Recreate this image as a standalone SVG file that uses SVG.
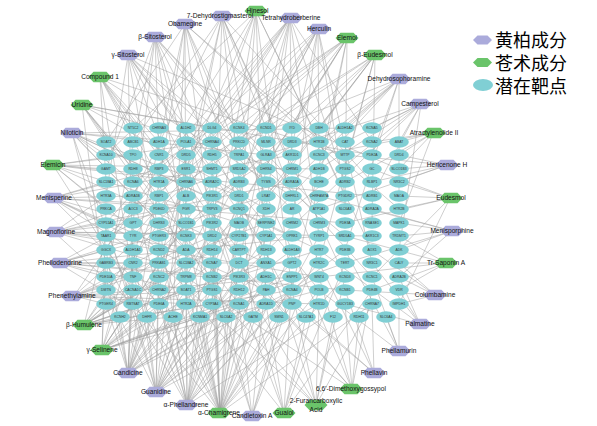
<svg xmlns="http://www.w3.org/2000/svg" xmlns:xlink="http://www.w3.org/1999/xlink" width="597" height="426" viewBox="0 0 597 426">
<style>
.e{fill:none;stroke:#9e9e9e;stroke-width:.5}
#targets ellipse{fill:#80cfd4}
#targets text{font-family:"Liberation Sans",Arial,sans-serif;font-size:3.4px;fill:#333;text-anchor:middle}
.p{fill:#ababdb}
.g{fill:#6ac46a}
.nl{font-family:"Liberation Sans",Arial,sans-serif;font-size:6.6px;fill:#111;text-anchor:middle}
.lg{font-family:"Noto Sans CJK SC",sans-serif;font-size:18px;fill:#000}
</style>
<defs>
<polygon id="hex" points="-11.5,0 -6.5,-5.3 6.5,-5.3 11.5,0 6.5,5.3 -6.5,5.3"/>
<polygon id="hexL" points="-9.5,0 -5,-4.6 5,-4.6 9.5,0 5,4.6 -5,4.6"/>
</defs>
<rect width="597" height="426" fill="#fff"/>
<g id="connectors">
<path class="e" d="M256 11L186 169M256 11L239 236M256 11L292 290M256 11L133 209M256 11L345 196M256 11L212 263M256 11L106 155M256 11L266 304M256 11L372 250M256 11L159 277"/>
<path class="e" d="M222 16L133 142M222 16L186 196M222 16L266 223M222 16L319 263M222 16L106 250M222 16L212 304M222 16L372 182M222 16L159 290M222 16L292 169M222 16L253 317M222 16L345 277"/>
<path class="e" d="M185 24L106 142M185 24L159 182M185 24L212 236M185 24L266 277M185 24L345 169M185 24L133 263M185 24L399 209M185 24L186 304M185 24L292 250M185 24L239 155M185 24L173 317"/>
<path class="e" d="M155 37L106 169M155 37L133 223M155 37L186 250M155 37L239 290M155 37L319 209M155 37L159 155M155 37L372 277M155 37L266 182M155 37L226 317M155 37L292 304M155 37L106 277"/>
<path class="e" d="M128 55L106 196M128 55L159 236M128 55L212 169M128 55L266 250M128 55L319 290M128 55L133 290M128 55L345 236M128 55L186 209M128 55L399 169M128 55L239 263M128 55L292 209"/>
<path class="e" d="M100 77L133 128M100 77L159 142M100 77L106 182M100 77L186 223M100 77L239 250M100 77L133 277M100 77L292 196M100 77L212 290M100 77L345 155M100 77L279 317"/>
<path class="e" d="M82 105L106 142M82 105L133 169M82 105L159 196M82 105L212 128M82 105L186 250M82 105L266 209M82 105L106 290M82 105L319 182M82 105L239 304M82 105L372 155"/>
<path class="e" d="M72 133L106 155M72 133L133 182M72 133L186 142M72 133L159 223M72 133L239 196M72 133L106 263M72 133L212 277M72 133L292 236M72 133L345 128M72 133L133 304M72 133L266 155M72 133L319 250"/>
<path class="e" d="M53 165L106 169M53 165L106 209M53 165L133 155M53 165L159 250M53 165L186 182M53 165L239 223M53 165L212 142M53 165L266 263M53 165L133 290M53 165L319 169M53 165L372 196"/>
<path class="e" d="M52 198L106 182M52 198L106 223M52 198L133 196M52 198L159 169M52 198L186 236M52 198L239 209M52 198L212 277M52 198L292 155M52 198L133 250M52 198L345 223M52 198L266 290M52 198L159 304"/>
<path class="e" d="M54 232L106 236M54 232L106 196M54 232L133 223M54 232L159 263M54 232L186 209M54 232L212 250M54 232L266 236M54 232L239 169M54 232L319 277M54 232L133 304M54 232L292 182M54 232L372 236"/>
<path class="e" d="M58 263L106 250M58 263L106 277M58 263L133 263M58 263L159 209M58 263L186 290M58 263L212 223M58 263L239 277M58 263L266 196M58 263L319 236M58 263L147 317M58 263L292 263M58 263L345 290"/>
<path class="e" d="M74 296L106 290M74 296L106 304M74 296L133 277M74 296L159 250M74 296L186 304M74 296L212 236M74 296L239 290M74 296L266 223M74 296L292 277M74 296L319 304M74 296L186 196M74 296L133 209"/>
<path class="e" d="M84 325L106 304M84 325L133 290M84 325L159 277M84 325L186 263M84 325L212 250M84 325L239 236M84 325L266 263M84 325L159 223M84 325L133 250M84 325L186 290M84 325L292 290M84 325L212 304M84 325L106 236M84 325L120 317M84 325L173 317M84 325L319 250M84 325L239 182"/>
<path class="e" d="M102 350L106 263M102 350L133 304M102 350L159 290M102 350L186 277M102 350L212 263M102 350L239 304M102 350L266 250M102 350L159 196M102 350L133 236M102 350L186 223M102 350L292 277M102 350L319 290M102 350L147 317M102 350L200 317M102 350L345 263M102 350L106 209M102 350L212 182"/>
<path class="e" d="M128 373L106 277M128 373L106 304M128 373L133 263M128 373L133 290M128 373L159 304M128 373L159 250M128 373L186 290M128 373L186 236M128 373L212 277M128 373L212 209M128 373L239 263M128 373L239 304M128 373L266 290M128 373L133 223M128 373L106 250M128 373L120 317M128 373L147 317M128 373L173 317M128 373L292 250M128 373L159 182M128 373L319 277M128 373L186 169"/>
<path class="e" d="M156 392L106 290M156 392L133 304M156 392L159 277M156 392L186 304M156 392L212 290M156 392L239 277M156 392L266 304M156 392L159 236M156 392L186 263M156 392L133 250M156 392L212 223M156 392L106 223M156 392L147 317M156 392L200 317M156 392L226 317M156 392L292 263M156 392L239 209M156 392L319 304M156 392L266 236M156 392L186 155M156 392L345 250"/>
<path class="e" d="M187 405L159 304M187 405L186 290M187 405L212 304M187 405L239 290M187 405L266 277M187 405L133 277M187 405L186 250M187 405L212 263M187 405L159 223M187 405L106 263M187 405L239 236M187 405L292 290M187 405L173 317M187 405L200 317M187 405L253 317M187 405L266 209M187 405L319 263M187 405L133 196M187 405L212 169M187 405L345 304"/>
<path class="e" d="M220 413L186 304M220 413L212 290M220 413L239 304M220 413L266 290M220 413L292 304M220 413L159 290M220 413L186 263M220 413L212 250M220 413L239 263M220 413L266 236M220 413L159 250M220 413L133 304M220 413L319 290M220 413L212 209M220 413L239 196M220 413L186 223M220 413L200 317M220 413L226 317M220 413L253 317M220 413L279 317M220 413L292 250M220 413L133 263M220 413L345 277M220 413L266 169M220 413L159 182M220 413L319 236M220 413L372 304M220 413L212 155"/>
<path class="e" d="M252 416L239 304M252 416L266 277M252 416L212 263M252 416L292 290M252 416L279 317M252 416L319 250M252 416L186 209"/>
<path class="e" d="M284 413L266 304M284 413L292 277M284 413L239 250M284 413L319 290M284 413L345 263M284 413L212 223M284 413L306 317M284 413L186 290M284 413L372 290"/>
<path class="e" d="M316 405L319 304M316 405L292 290M316 405L345 277M316 405L266 250M316 405L372 304M316 405L239 277M316 405L333 317M316 405L212 290M316 405L159 263"/>
<path class="e" d="M352 389L345 304M352 389L319 277M352 389L372 290M352 389L292 250M352 389L266 290M352 389L359 317M352 389L239 263M352 389L186 277"/>
<path class="e" d="M374 373L372 304M374 373L345 290M374 373L319 263M374 373L266 277M374 373L292 304"/>
<path class="e" d="M399 351L399 304M399 351L372 277M399 351L345 250M399 351L319 290M399 351L386 317"/>
<path class="e" d="M420 324L399 290M420 324L372 263M420 324L345 304M420 324L399 277M420 324L319 250"/>
<path class="e" d="M435 295L399 277M435 295L399 304M435 295L372 250M435 295L345 290M435 295L399 263"/>
<path class="e" d="M446 263L399 263M446 263L399 236M446 263L372 290M446 263L399 290M446 263L345 236M446 263L319 277"/>
<path class="e" d="M452 231L399 223M452 231L399 236M452 231L399 250M452 231L372 209M452 231L345 263M452 231L399 277M452 231L319 196"/>
<path class="e" d="M450 198L399 196M450 198L399 209M450 198L399 182M450 198L372 169M450 198L345 223M450 198L399 304M450 198L372 277"/>
<path class="e" d="M447 165L399 169M447 165L399 155M447 165L399 182M447 165L372 182M447 165L345 155M447 165L319 209"/>
<path class="e" d="M433 133L399 142M433 133L399 155M433 133L399 169M433 133L372 142M433 133L345 182M433 133L319 155M433 133L399 223"/>
<path class="e" d="M421 104L372 128M421 104L399 142M421 104L345 142M421 104L319 169M421 104L372 196M421 104L399 250M421 104L292 209M421 104L266 155M421 104L239 277"/>
<path class="e" d="M399 79L345 128M399 79L319 142M399 79L372 155M399 79L292 182M399 79L266 223M399 79L239 142M399 79L345 250M399 79L212 196M399 79L186 263M399 79L399 196"/>
<path class="e" d="M375 55L319 128M375 55L292 142M375 55L345 169M375 55L266 196M375 55L239 236M375 55L212 155M375 55L372 223M375 55L186 182M375 55L159 250M375 55L319 263"/>
<path class="e" d="M347 38L292 128M347 38L266 142M347 38L319 182M347 38L239 209M347 38L212 250M347 38L186 155M347 38L159 209M347 38L133 182M347 38L345 209M347 38L106 236M347 38L292 290"/>
<path class="e" d="M318 29L266 128M318 29L239 155M318 29L319 155M318 29L292 223M318 29L212 182M318 29L186 277M318 29L345 196M318 29L159 169M318 29L133 236M318 29L372 263M318 29L266 263"/>
<path class="e" d="M290 18L239 128M290 18L212 142M290 18L292 155M290 18L186 169M290 18L266 209M290 18L159 196M290 18L319 236M290 18L133 209M290 18L345 182M290 18L106 223M290 18L239 263M290 18L372 142M290 18L212 290"/>
</g>
<g id="targets">
<g id="t-NT5C2" transform="translate(133 128)"><ellipse rx="9.8" ry="5.8"/><text y="1.2">NT5C2</text></g>
<g id="t-CHRNA3" transform="translate(159 128)"><ellipse rx="9.8" ry="5.8"/><text y="1.2">CHRNA3</text></g>
<g id="t-ALDH2" transform="translate(186 128)"><ellipse rx="9.8" ry="5.8"/><text y="1.2">ALDH2</text></g>
<g id="t-DLG4" transform="translate(212 128)"><ellipse rx="9.8" ry="5.8"/><text y="1.2">DLG4</text></g>
<g id="t-KCNK4" transform="translate(239 128)"><ellipse rx="9.8" ry="5.8"/><text y="1.2">KCNK4</text></g>
<g id="t-KCND1" transform="translate(266 128)"><ellipse rx="9.8" ry="5.8"/><text y="1.2">KCND1</text></g>
<g id="t-IYD" transform="translate(292 128)"><ellipse rx="9.8" ry="5.8"/><text y="1.2">IYD</text></g>
<g id="t-DBH" transform="translate(319 128)"><ellipse rx="9.8" ry="5.8"/><text y="1.2">DBH</text></g>
<g id="t-ALDH1A2" transform="translate(345 128)"><ellipse rx="9.8" ry="5.8"/><text y="1.2">ALDH1A2</text></g>
<g id="t-KCNA5" transform="translate(372 128)"><ellipse rx="9.8" ry="5.8"/><text y="1.2">KCNA5</text></g>

<g id="t-SOAT2" transform="translate(106 142)"><ellipse rx="9.8" ry="5.8"/><text y="1.2">SOAT2</text></g>
<g id="t-ABCB1" transform="translate(133 142)"><ellipse rx="9.8" ry="5.8"/><text y="1.2">ABCB1</text></g>
<g id="t-ADH1A" transform="translate(159 142)"><ellipse rx="9.8" ry="5.8"/><text y="1.2">ADH1A</text></g>
<g id="t-POLA1" transform="translate(186 142)"><ellipse rx="9.8" ry="5.8"/><text y="1.2">POLA1</text></g>
<g id="t-CHRNA4" transform="translate(212 142)"><ellipse rx="9.8" ry="5.8"/><text y="1.2">CHRNA4</text></g>
<g id="t-PRKCD" transform="translate(239 142)"><ellipse rx="9.8" ry="5.8"/><text y="1.2">PRKCD</text></g>
<g id="t-MLNR" transform="translate(266 142)"><ellipse rx="9.8" ry="5.8"/><text y="1.2">MLNR</text></g>
<g id="t-DRD3" transform="translate(292 142)"><ellipse rx="9.8" ry="5.8"/><text y="1.2">DRD3</text></g>
<g id="t-HTR1B" transform="translate(319 142)"><ellipse rx="9.8" ry="5.8"/><text y="1.2">HTR1B</text></g>
<g id="t-CAT" transform="translate(345 142)"><ellipse rx="9.8" ry="5.8"/><text y="1.2">CAT</text></g>
<g id="t-KCNA2" transform="translate(372 142)"><ellipse rx="9.8" ry="5.8"/><text y="1.2">KCNA2</text></g>
<g id="t-ABAT" transform="translate(399 142)"><ellipse rx="9.8" ry="5.8"/><text y="1.2">ABAT</text></g>

<g id="t-KCNA10" transform="translate(106 155)"><ellipse rx="9.8" ry="5.8"/><text y="1.2">KCNA10</text></g>
<g id="t-TPO" transform="translate(133 155)"><ellipse rx="9.8" ry="5.8"/><text y="1.2">TPO</text></g>
<g id="t-CNR1" transform="translate(159 155)"><ellipse rx="9.8" ry="5.8"/><text y="1.2">CNR1</text></g>
<g id="t-DRD5" transform="translate(186 155)"><ellipse rx="9.8" ry="5.8"/><text y="1.2">DRD5</text></g>
<g id="t-RDH5" transform="translate(212 155)"><ellipse rx="9.8" ry="5.8"/><text y="1.2">RDH5</text></g>
<g id="t-TRPA1" transform="translate(239 155)"><ellipse rx="9.8" ry="5.8"/><text y="1.2">TRPA1</text></g>
<g id="t-GLRA3" transform="translate(266 155)"><ellipse rx="9.8" ry="5.8"/><text y="1.2">GLRA3</text></g>
<g id="t-AKR1D1" transform="translate(292 155)"><ellipse rx="9.8" ry="5.8"/><text y="1.2">AKR1D1</text></g>
<g id="t-KCNC3" transform="translate(319 155)"><ellipse rx="9.8" ry="5.8"/><text y="1.2">KCNC3</text></g>
<g id="t-MTTP" transform="translate(345 155)"><ellipse rx="9.8" ry="5.8"/><text y="1.2">MTTP</text></g>
<g id="t-PDE2A" transform="translate(372 155)"><ellipse rx="9.8" ry="5.8"/><text y="1.2">PDE2A</text></g>
<g id="t-DRD4" transform="translate(399 155)"><ellipse rx="9.8" ry="5.8"/><text y="1.2">DRD4</text></g>

<g id="t-GAMT" transform="translate(106 169)"><ellipse rx="9.8" ry="5.8"/><text y="1.2">GAMT</text></g>
<g id="t-RDH8" transform="translate(133 169)"><ellipse rx="9.8" ry="5.8"/><text y="1.2">RDH8</text></g>
<g id="t-RBP3" transform="translate(159 169)"><ellipse rx="9.8" ry="5.8"/><text y="1.2">RBP3</text></g>
<g id="t-ESR1" transform="translate(186 169)"><ellipse rx="9.8" ry="5.8"/><text y="1.2">ESR1</text></g>
<g id="t-SHMT1" transform="translate(212 169)"><ellipse rx="9.8" ry="5.8"/><text y="1.2">SHMT1</text></g>
<g id="t-SRD5A2" transform="translate(239 169)"><ellipse rx="9.8" ry="5.8"/><text y="1.2">SRD5A2</text></g>
<g id="t-DHRS4" transform="translate(266 169)"><ellipse rx="9.8" ry="5.8"/><text y="1.2">DHRS4</text></g>
<g id="t-CHRM1" transform="translate(292 169)"><ellipse rx="9.8" ry="5.8"/><text y="1.2">CHRM1</text></g>
<g id="t-ADH1B" transform="translate(319 169)"><ellipse rx="9.8" ry="5.8"/><text y="1.2">ADH1B</text></g>
<g id="t-PTGS2" transform="translate(345 169)"><ellipse rx="9.8" ry="5.8"/><text y="1.2">PTGS2</text></g>
<g id="t-GC" transform="translate(372 169)"><ellipse rx="9.8" ry="5.8"/><text y="1.2">GC</text></g>
<g id="t-SLCO1B3" transform="translate(399 169)"><ellipse rx="9.8" ry="5.8"/><text y="1.2">SLCO1B3</text></g>

<g id="t-SLC18A1" transform="translate(106 182)"><ellipse rx="9.8" ry="5.8"/><text y="1.2">SLC18A1</text></g>
<g id="t-KCNA6" transform="translate(133 182)"><ellipse rx="9.8" ry="5.8"/><text y="1.2">KCNA6</text></g>
<g id="t-HTR1A" transform="translate(159 182)"><ellipse rx="9.8" ry="5.8"/><text y="1.2">HTR1A</text></g>
<g id="t-CHRNA6" transform="translate(186 182)"><ellipse rx="9.8" ry="5.8"/><text y="1.2">CHRNA6</text></g>
<g id="t-ADRA2C" transform="translate(212 182)"><ellipse rx="9.8" ry="5.8"/><text y="1.2">ADRA2C</text></g>
<g id="t-ADRB3" transform="translate(239 182)"><ellipse rx="9.8" ry="5.8"/><text y="1.2">ADRB3</text></g>
<g id="t-TYMS" transform="translate(266 182)"><ellipse rx="9.8" ry="5.8"/><text y="1.2">TYMS</text></g>
<g id="t-ADRA1A" transform="translate(292 182)"><ellipse rx="9.8" ry="5.8"/><text y="1.2">ADRA1A</text></g>
<g id="t-BCHE" transform="translate(319 182)"><ellipse rx="9.8" ry="5.8"/><text y="1.2">BCHE</text></g>
<g id="t-ADRB2" transform="translate(345 182)"><ellipse rx="9.8" ry="5.8"/><text y="1.2">ADRB2</text></g>
<g id="t-RLBP1" transform="translate(372 182)"><ellipse rx="9.8" ry="5.8"/><text y="1.2">RLBP1</text></g>
<g id="t-NR3C2" transform="translate(399 182)"><ellipse rx="9.8" ry="5.8"/><text y="1.2">NR3C2</text></g>

<g id="t-HTR3A" transform="translate(106 196)"><ellipse rx="9.8" ry="5.8"/><text y="1.2">HTR3A</text></g>
<g id="t-ADRA1B" transform="translate(133 196)"><ellipse rx="9.8" ry="5.8"/><text y="1.2">ADRA1B</text></g>
<g id="t-RBP1" transform="translate(159 196)"><ellipse rx="9.8" ry="5.8"/><text y="1.2">RBP1</text></g>
<g id="t-ALB" transform="translate(186 196)"><ellipse rx="9.8" ry="5.8"/><text y="1.2">ALB</text></g>
<g id="t-PIK3R1" transform="translate(212 196)"><ellipse rx="9.8" ry="5.8"/><text y="1.2">PIK3R1</text></g>
<g id="t-DRD1" transform="translate(239 196)"><ellipse rx="9.8" ry="5.8"/><text y="1.2">DRD1</text></g>
<g id="t-LRAT" transform="translate(266 196)"><ellipse rx="9.8" ry="5.8"/><text y="1.2">LRAT</text></g>
<g id="t-DHFRL1" transform="translate(292 196)"><ellipse rx="9.8" ry="5.8"/><text y="1.2">DHFRL1</text></g>
<g id="t-CHRFAM7A" transform="translate(319 196)"><ellipse rx="9.8" ry="5.8"/><text y="1.2">CHRFAM7A</text></g>
<g id="t-PTGDR2" transform="translate(345 196)"><ellipse rx="9.8" ry="5.8"/><text y="1.2">PTGDR2</text></g>
<g id="t-ADRB1" transform="translate(372 196)"><ellipse rx="9.8" ry="5.8"/><text y="1.2">ADRB1</text></g>
<g id="t-MAOA" transform="translate(399 196)"><ellipse rx="9.8" ry="5.8"/><text y="1.2">MAOA</text></g>

<g id="t-PRKCA" transform="translate(106 209)"><ellipse rx="9.8" ry="5.8"/><text y="1.2">PRKCA</text></g>
<g id="t-AOC3" transform="translate(133 209)"><ellipse rx="9.8" ry="5.8"/><text y="1.2">AOC3</text></g>
<g id="t-PDE6D" transform="translate(159 209)"><ellipse rx="9.8" ry="5.8"/><text y="1.2">PDE6D</text></g>
<g id="t-PGR" transform="translate(186 209)"><ellipse rx="9.8" ry="5.8"/><text y="1.2">PGR</text></g>
<g id="t-TRPV3" transform="translate(212 209)"><ellipse rx="9.8" ry="5.8"/><text y="1.2">TRPV3</text></g>
<g id="t-KCNQ1" transform="translate(239 209)"><ellipse rx="9.8" ry="5.8"/><text y="1.2">KCNQ1</text></g>
<g id="t-XDH" transform="translate(266 209)"><ellipse rx="9.8" ry="5.8"/><text y="1.2">XDH</text></g>
<g id="t-AR" transform="translate(292 209)"><ellipse rx="9.8" ry="5.8"/><text y="1.2">AR</text></g>
<g id="t-ATP1A1" transform="translate(319 209)"><ellipse rx="9.8" ry="5.8"/><text y="1.2">ATP1A1</text></g>
<g id="t-SLC6A3" transform="translate(345 209)"><ellipse rx="9.8" ry="5.8"/><text y="1.2">SLC6A3</text></g>
<g id="t-ADRA2A" transform="translate(372 209)"><ellipse rx="9.8" ry="5.8"/><text y="1.2">ADRA2A</text></g>
<g id="t-HTR2B" transform="translate(399 209)"><ellipse rx="9.8" ry="5.8"/><text y="1.2">HTR2B</text></g>

<g id="t-CYP51A1" transform="translate(106 223)"><ellipse rx="9.8" ry="5.8"/><text y="1.2">CYP51A1</text></g>
<g id="t-GPT" transform="translate(133 223)"><ellipse rx="9.8" ry="5.8"/><text y="1.2">GPT</text></g>
<g id="t-DHRS3" transform="translate(159 223)"><ellipse rx="9.8" ry="5.8"/><text y="1.2">DHRS3</text></g>
<g id="t-SLCO1B1" transform="translate(186 223)"><ellipse rx="9.8" ry="5.8"/><text y="1.2">SLCO1B1</text></g>
<g id="t-PIK3R2" transform="translate(212 223)"><ellipse rx="9.8" ry="5.8"/><text y="1.2">PIK3R2</text></g>
<g id="t-MAOB" transform="translate(239 223)"><ellipse rx="9.8" ry="5.8"/><text y="1.2">MAOB</text></g>
<g id="t-SERPINE2" transform="translate(266 223)"><ellipse rx="9.8" ry="5.8"/><text y="1.2">SERPINE2</text></g>
<g id="t-CHRM2" transform="translate(292 223)"><ellipse rx="9.8" ry="5.8"/><text y="1.2">CHRM2</text></g>
<g id="t-CHRM3" transform="translate(319 223)"><ellipse rx="9.8" ry="5.8"/><text y="1.2">CHRM3</text></g>
<g id="t-PDE3A" transform="translate(345 223)"><ellipse rx="9.8" ry="5.8"/><text y="1.2">PDE3A</text></g>
<g id="t-RNASE1" transform="translate(372 223)"><ellipse rx="9.8" ry="5.8"/><text y="1.2">RNASE1</text></g>
<g id="t-MAPK1" transform="translate(399 223)"><ellipse rx="9.8" ry="5.8"/><text y="1.2">MAPK1</text></g>

<g id="t-TAAR1" transform="translate(106 236)"><ellipse rx="9.8" ry="5.8"/><text y="1.2">TAAR1</text></g>
<g id="t-TYR" transform="translate(133 236)"><ellipse rx="9.8" ry="5.8"/><text y="1.2">TYR</text></g>
<g id="t-PTGER3" transform="translate(159 236)"><ellipse rx="9.8" ry="5.8"/><text y="1.2">PTGER3</text></g>
<g id="t-KCNK3" transform="translate(186 236)"><ellipse rx="9.8" ry="5.8"/><text y="1.2">KCNK3</text></g>
<g id="t-DRD2" transform="translate(212 236)"><ellipse rx="9.8" ry="5.8"/><text y="1.2">DRD2</text></g>
<g id="t-CYP27B1" transform="translate(239 236)"><ellipse rx="9.8" ry="5.8"/><text y="1.2">CYP27B1</text></g>
<g id="t-CYP1A1" transform="translate(266 236)"><ellipse rx="9.8" ry="5.8"/><text y="1.2">CYP1A1</text></g>
<g id="t-OPRK1" transform="translate(292 236)"><ellipse rx="9.8" ry="5.8"/><text y="1.2">OPRK1</text></g>
<g id="t-TYRP1" transform="translate(319 236)"><ellipse rx="9.8" ry="5.8"/><text y="1.2">TYRP1</text></g>
<g id="t-SRD5A1" transform="translate(345 236)"><ellipse rx="9.8" ry="5.8"/><text y="1.2">SRD5A1</text></g>
<g id="t-AKR1C3" transform="translate(372 236)"><ellipse rx="9.8" ry="5.8"/><text y="1.2">AKR1C3</text></g>
<g id="t-TRDMT1" transform="translate(399 236)"><ellipse rx="9.8" ry="5.8"/><text y="1.2">TRDMT1</text></g>

<g id="t-GGCX" transform="translate(106 250)"><ellipse rx="9.8" ry="5.8"/><text y="1.2">GGCX</text></g>
<g id="t-ALDH1A1" transform="translate(133 250)"><ellipse rx="9.8" ry="5.8"/><text y="1.2">ALDH1A1</text></g>
<g id="t-KCND2" transform="translate(159 250)"><ellipse rx="9.8" ry="5.8"/><text y="1.2">KCND2</text></g>
<g id="t-ADA" transform="translate(186 250)"><ellipse rx="9.8" ry="5.8"/><text y="1.2">ADA</text></g>
<g id="t-RDH14" transform="translate(212 250)"><ellipse rx="9.8" ry="5.8"/><text y="1.2">RDH14</text></g>
<g id="t-CARTPT" transform="translate(239 250)"><ellipse rx="9.8" ry="5.8"/><text y="1.2">CARTPT</text></g>
<g id="t-RDH13" transform="translate(266 250)"><ellipse rx="9.8" ry="5.8"/><text y="1.2">RDH13</text></g>
<g id="t-ALDH1A3" transform="translate(292 250)"><ellipse rx="9.8" ry="5.8"/><text y="1.2">ALDH1A3</text></g>
<g id="t-HTR7" transform="translate(319 250)"><ellipse rx="9.8" ry="5.8"/><text y="1.2">HTR7</text></g>
<g id="t-PDE3B" transform="translate(345 250)"><ellipse rx="9.8" ry="5.8"/><text y="1.2">PDE3B</text></g>
<g id="t-AOX1" transform="translate(372 250)"><ellipse rx="9.8" ry="5.8"/><text y="1.2">AOX1</text></g>
<g id="t-ADK" transform="translate(399 250)"><ellipse rx="9.8" ry="5.8"/><text y="1.2">ADK</text></g>

<g id="t-GABRB3" transform="translate(106 263)"><ellipse rx="9.8" ry="5.8"/><text y="1.2">GABRB3</text></g>
<g id="t-CNR2" transform="translate(133 263)"><ellipse rx="9.8" ry="5.8"/><text y="1.2">CNR2</text></g>
<g id="t-PRKAB1" transform="translate(159 263)"><ellipse rx="9.8" ry="5.8"/><text y="1.2">PRKAB1</text></g>
<g id="t-SLC18A2" transform="translate(186 263)"><ellipse rx="9.8" ry="5.8"/><text y="1.2">SLC18A2</text></g>
<g id="t-KCNA7" transform="translate(212 263)"><ellipse rx="9.8" ry="5.8"/><text y="1.2">KCNA7</text></g>
<g id="t-DCT" transform="translate(239 263)"><ellipse rx="9.8" ry="5.8"/><text y="1.2">DCT</text></g>
<g id="t-ANXA1" transform="translate(266 263)"><ellipse rx="9.8" ry="5.8"/><text y="1.2">ANXA1</text></g>
<g id="t-GPT2" transform="translate(292 263)"><ellipse rx="9.8" ry="5.8"/><text y="1.2">GPT2</text></g>
<g id="t-HTR2C" transform="translate(319 263)"><ellipse rx="9.8" ry="5.8"/><text y="1.2">HTR2C</text></g>
<g id="t-TERT" transform="translate(345 263)"><ellipse rx="9.8" ry="5.8"/><text y="1.2">TERT</text></g>
<g id="t-NR3C1" transform="translate(372 263)"><ellipse rx="9.8" ry="5.8"/><text y="1.2">NR3C1</text></g>
<g id="t-CALY" transform="translate(399 263)"><ellipse rx="9.8" ry="5.8"/><text y="1.2">CALY</text></g>

<g id="t-PDE10A" transform="translate(106 277)"><ellipse rx="9.8" ry="5.8"/><text y="1.2">PDE10A</text></g>
<g id="t-TNF" transform="translate(133 277)"><ellipse rx="9.8" ry="5.8"/><text y="1.2">TNF</text></g>
<g id="t-KCNC2" transform="translate(159 277)"><ellipse rx="9.8" ry="5.8"/><text y="1.2">KCNC2</text></g>
<g id="t-TRPM8" transform="translate(186 277)"><ellipse rx="9.8" ry="5.8"/><text y="1.2">TRPM8</text></g>
<g id="t-KCNB2" transform="translate(212 277)"><ellipse rx="9.8" ry="5.8"/><text y="1.2">KCNB2</text></g>
<g id="t-PIK3R3" transform="translate(239 277)"><ellipse rx="9.8" ry="5.8"/><text y="1.2">PIK3R3</text></g>
<g id="t-ADH1C" transform="translate(266 277)"><ellipse rx="9.8" ry="5.8"/><text y="1.2">ADH1C</text></g>
<g id="t-ENPP1" transform="translate(292 277)"><ellipse rx="9.8" ry="5.8"/><text y="1.2">ENPP1</text></g>
<g id="t-WNT4" transform="translate(319 277)"><ellipse rx="9.8" ry="5.8"/><text y="1.2">WNT4</text></g>
<g id="t-KCND3" transform="translate(345 277)"><ellipse rx="9.8" ry="5.8"/><text y="1.2">KCND3</text></g>
<g id="t-KCNC1" transform="translate(372 277)"><ellipse rx="9.8" ry="5.8"/><text y="1.2">KCNC1</text></g>
<g id="t-ADRA2B" transform="translate(399 277)"><ellipse rx="9.8" ry="5.8"/><text y="1.2">ADRA2B</text></g>

<g id="t-DMTN" transform="translate(106 290)"><ellipse rx="9.8" ry="5.8"/><text y="1.2">DMTN</text></g>
<g id="t-CACNA1C" transform="translate(133 290)"><ellipse rx="9.8" ry="5.8"/><text y="1.2">CACNA1C</text></g>
<g id="t-CHRNA2" transform="translate(159 290)"><ellipse rx="9.8" ry="5.8"/><text y="1.2">CHRNA2</text></g>
<g id="t-SOAT1" transform="translate(186 290)"><ellipse rx="9.8" ry="5.8"/><text y="1.2">SOAT1</text></g>
<g id="t-PTGS1" transform="translate(212 290)"><ellipse rx="9.8" ry="5.8"/><text y="1.2">PTGS1</text></g>
<g id="t-RDH12" transform="translate(239 290)"><ellipse rx="9.8" ry="5.8"/><text y="1.2">RDH12</text></g>
<g id="t-PAH" transform="translate(266 290)"><ellipse rx="9.8" ry="5.8"/><text y="1.2">PAH</text></g>
<g id="t-KCNA4" transform="translate(292 290)"><ellipse rx="9.8" ry="5.8"/><text y="1.2">KCNA4</text></g>
<g id="t-POLB" transform="translate(319 290)"><ellipse rx="9.8" ry="5.8"/><text y="1.2">POLB</text></g>
<g id="t-KCNB1" transform="translate(345 290)"><ellipse rx="9.8" ry="5.8"/><text y="1.2">KCNB1</text></g>
<g id="t-PDE4B" transform="translate(372 290)"><ellipse rx="9.8" ry="5.8"/><text y="1.2">PDE4B</text></g>
<g id="t-VDR" transform="translate(399 290)"><ellipse rx="9.8" ry="5.8"/><text y="1.2">VDR</text></g>

<g id="t-PTGER4" transform="translate(106 304)"><ellipse rx="9.8" ry="5.8"/><text y="1.2">PTGER4</text></g>
<g id="t-RBTSAT" transform="translate(133 304)"><ellipse rx="9.8" ry="5.8"/><text y="1.2">RBTSAT</text></g>
<g id="t-PDE6A" transform="translate(159 304)"><ellipse rx="9.8" ry="5.8"/><text y="1.2">PDE6A</text></g>
<g id="t-HTR2A" transform="translate(186 304)"><ellipse rx="9.8" ry="5.8"/><text y="1.2">HTR2A</text></g>
<g id="t-CYP3A4" transform="translate(212 304)"><ellipse rx="9.8" ry="5.8"/><text y="1.2">CYP3A4</text></g>
<g id="t-KCNA1" transform="translate(239 304)"><ellipse rx="9.8" ry="5.8"/><text y="1.2">KCNA1</text></g>
<g id="t-ADRA1D" transform="translate(266 304)"><ellipse rx="9.8" ry="5.8"/><text y="1.2">ADRA1D</text></g>
<g id="t-PNP" transform="translate(292 304)"><ellipse rx="9.8" ry="5.8"/><text y="1.2">PNP</text></g>
<g id="t-HTR1D" transform="translate(319 304)"><ellipse rx="9.8" ry="5.8"/><text y="1.2">HTR1D</text></g>
<g id="t-GUCY1B3" transform="translate(345 304)"><ellipse rx="9.8" ry="5.8"/><text y="1.2">GUCY1B3</text></g>
<g id="t-CHRNA7" transform="translate(372 304)"><ellipse rx="9.8" ry="5.8"/><text y="1.2">CHRNA7</text></g>
<g id="t-IMPDH1" transform="translate(399 304)"><ellipse rx="9.8" ry="5.8"/><text y="1.2">IMPDH1</text></g>

<g id="t-KCNH2" transform="translate(120 317)"><ellipse rx="9.8" ry="5.8"/><text y="1.2">KCNH2</text></g>
<g id="t-DHFR" transform="translate(147 317)"><ellipse rx="9.8" ry="5.8"/><text y="1.2">DHFR</text></g>
<g id="t-ACHE" transform="translate(173 317)"><ellipse rx="9.8" ry="5.8"/><text y="1.2">ACHE</text></g>
<g id="t-KCNMA1" transform="translate(200 317)"><ellipse rx="9.8" ry="5.8"/><text y="1.2">KCNMA1</text></g>
<g id="t-SLC6A2" transform="translate(226 317)"><ellipse rx="9.8" ry="5.8"/><text y="1.2">SLC6A2</text></g>
<g id="t-GATM" transform="translate(253 317)"><ellipse rx="9.8" ry="5.8"/><text y="1.2">GATM</text></g>
<g id="t-SMN1" transform="translate(279 317)"><ellipse rx="9.8" ry="5.8"/><text y="1.2">SMN1</text></g>
<g id="t-SLC47A1" transform="translate(306 317)"><ellipse rx="9.8" ry="5.8"/><text y="1.2">SLC47A1</text></g>
<g id="t-F12" transform="translate(333 317)"><ellipse rx="9.8" ry="5.8"/><text y="1.2">F12</text></g>
<g id="t-RDH11" transform="translate(359 317)"><ellipse rx="9.8" ry="5.8"/><text y="1.2">RDH11</text></g>
<g id="t-SLC6A4" transform="translate(386 317)"><ellipse rx="9.8" ry="5.8"/><text y="1.2">SLC6A4</text></g>
</g>
<g id="compounds">
<g id="n-Hinesol" transform="translate(256 11)"><use xlink:href="#hex" class="g"/><text class="nl" x="1.5" y="2.3">Hinesol</text></g>
<g id="n-7-Dehydrostigmasterol" transform="translate(222 16)"><use xlink:href="#hex" class="p"/><text class="nl" x="-2" y="2.3">7-Dehydrostigmasterol</text></g>
<g id="n-Obamegine" transform="translate(185 24)"><use xlink:href="#hex" class="p"/><text class="nl" y="2.3">Obamegine</text></g>
<g id="n-beta-Sitosterol" transform="translate(155 37)"><use xlink:href="#hex" class="p"/><text class="nl" y="2.3">β-Sitosterol</text></g>
<g id="n-gamma-Sitosterol" transform="translate(128 55)"><use xlink:href="#hex" class="p"/><text class="nl" y="2.3">γ-Sitosterol</text></g>
<g id="n-Compound-1" transform="translate(100 77)"><use xlink:href="#hex" class="g"/><text class="nl" y="2.3">Compound 1</text></g>
<g id="n-Uridine" transform="translate(82 105)"><use xlink:href="#hex" class="g"/><text class="nl" y="2.3">Uridine</text></g>
<g id="n-Niloticin" transform="translate(72 133)"><use xlink:href="#hex" class="p"/><text class="nl" y="2.3">Niloticin</text></g>
<g id="n-Elemicin" transform="translate(53 165)"><use xlink:href="#hex" class="g"/><text class="nl" y="2.3">Elemicin</text></g>
<g id="n-Menisperine" transform="translate(54 198)"><use xlink:href="#hex" class="p"/><text class="nl" y="2.3">Menisperine</text></g>
<g id="n-Magnoflorine" transform="translate(56 232)"><use xlink:href="#hex" class="p"/><text class="nl" y="2.3">Magnoflorine</text></g>
<g id="n-Phellodendrine" transform="translate(60 263)"><use xlink:href="#hex" class="p"/><text class="nl" y="2.3">Phellodendrine</text></g>
<g id="n-Phenethylamine" transform="translate(72 296)"><use xlink:href="#hex" class="p"/><text class="nl" y="2.3">Phenethylamine</text></g>
<g id="n-beta-Humulene" transform="translate(84 325)"><use xlink:href="#hex" class="g"/><text class="nl" y="2.3">β-Humulene</text></g>
<g id="n-gamma-Selinene" transform="translate(102 350)"><use xlink:href="#hex" class="g"/><text class="nl" y="2.3">γ-Selinene</text></g>
<g id="n-Candicine" transform="translate(128 373)"><use xlink:href="#hex" class="p"/><text class="nl" y="2.3">Candicine</text></g>
<g id="n-Guanidine" transform="translate(156 392)"><use xlink:href="#hex" class="p"/><text class="nl" y="2.3">Guanidine</text></g>
<g id="n-alpha-Phellandrene" transform="translate(186 405)"><use xlink:href="#hex" class="p"/><text class="nl" y="2.3">α-Phellandrene</text></g>
<g id="n-alpha-Chamigrene" transform="translate(219 413)"><use xlink:href="#hex" class="g"/><text class="nl" y="2.3">α-Chamigrene</text></g>
<g id="n-Candletoxin-A" transform="translate(252 416)"><use xlink:href="#hex" class="p"/><text class="nl" y="2.3">Candletoxin A</text></g>
<g id="n-Guaiol" transform="translate(284 413)"><use xlink:href="#hex" class="g"/><text class="nl" y="2.3">Guaiol</text></g>
<g id="n-2-Furancarboxylic-Acid" transform="translate(316 405)"><use xlink:href="#hex" class="g"/><text class="nl" y="-2">2-Furancarboxylic</text><text class="nl" y="6.6">Acid</text></g>
<g id="n-6-6-Dimethoxygossypol" transform="translate(351 389)"><use xlink:href="#hex" class="g"/><text class="nl" y="2.3">6,6'-Dimethoxygossypol</text></g>
<g id="n-Phellavin" transform="translate(374 373)"><use xlink:href="#hex" class="p"/><text class="nl" y="2.3">Phellavin</text></g>
<g id="n-Phellamurin" transform="translate(399 351)"><use xlink:href="#hex" class="p"/><text class="nl" y="2.3">Phellamurin</text></g>
<g id="n-Palmatine" transform="translate(420 324)"><use xlink:href="#hex" class="p"/><text class="nl" y="2.3">Palmatine</text></g>
<g id="n-Columbamine" transform="translate(435 295)"><use xlink:href="#hex" class="p"/><text class="nl" y="2.3">Columbamine</text></g>
<g id="n-Tr-Saponin-A" transform="translate(446 263)"><use xlink:href="#hex" class="g"/><text class="nl" y="2.3">Tr-Saponin A</text></g>
<g id="n-Menisporphine" transform="translate(452 231)"><use xlink:href="#hex" class="p"/><text class="nl" y="2.3">Menisporphine</text></g>
<g id="n-Eudesmol" transform="translate(451 198)"><use xlink:href="#hex" class="g"/><text class="nl" y="2.3">Eudesmol</text></g>
<g id="n-Hericenone-H" transform="translate(447 165)"><use xlink:href="#hex" class="p"/><text class="nl" y="2.3">Hericenone H</text></g>
<g id="n-Atractylenolide-II" transform="translate(434 133)"><use xlink:href="#hex" class="g"/><text class="nl" y="2.3">Atractylenolide II</text></g>
<g id="n-Campesterol" transform="translate(420 104)"><use xlink:href="#hex" class="p"/><text class="nl" y="2.3">Campesterol</text></g>
<g id="n-Dehydrosophoramine" transform="translate(399 79)"><use xlink:href="#hex" class="p"/><text class="nl" y="2.3">Dehydrosophoramine</text></g>
<g id="n-beta-Eudesmol" transform="translate(375 55)"><use xlink:href="#hex" class="g"/><text class="nl" y="2.3">β-Eudesmol</text></g>
<g id="n-Elemol" transform="translate(347 38)"><use xlink:href="#hex" class="g"/><text class="nl" y="2.3">Elemol</text></g>
<g id="n-Herculin" transform="translate(319 29)"><use xlink:href="#hex" class="p"/><text class="nl" y="2.3">Herculin</text></g>
<g id="n-Tetrahydroberberine" transform="translate(291 18)"><use xlink:href="#hex" class="p"/><text class="nl" y="2.3">Tetrahydroberberine</text></g>
</g>
<g id="legend">
<g id="lg-huangbai"><use xlink:href="#hexL" class="p" x="482.5" y="40"/><text class="lg" x="495" y="46.8">黄柏成分</text></g>
<g id="lg-cangzhu"><use xlink:href="#hexL" class="g" x="482.5" y="62.5"/><text class="lg" x="495" y="69.6">苍术成分</text></g>
<g id="lg-target"><ellipse cx="483" cy="85" rx="10" ry="6" fill="#80cfd4"/><text class="lg" x="495" y="93.4">潜在靶点</text></g>
</g>
</svg>
